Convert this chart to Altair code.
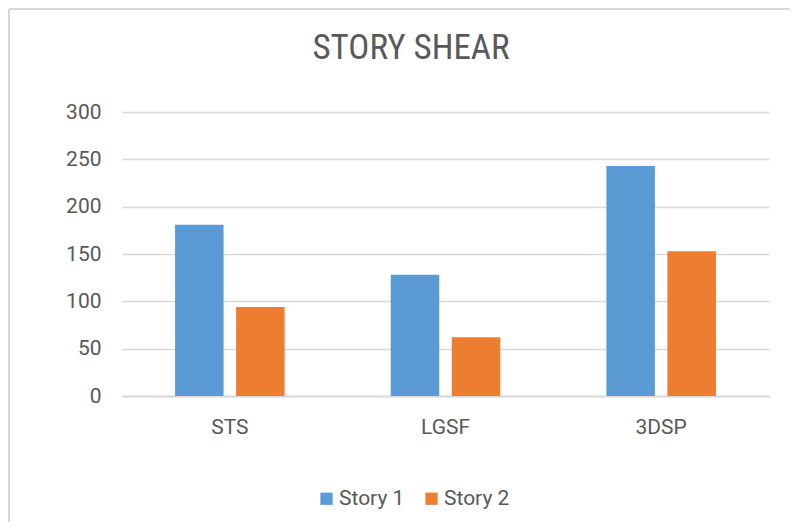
import altair as alt
import pandas as pd

title_text = "STORY SHEAR"
categories = ["STS", "LGSF", "3DSP"]
series = ["Story 1", "Story 2"]
story1 = [181, 128, 243]
story2 = [94, 62, 153]
y_ticks = [0, 50, 100, 150, 200, 250, 300]
colors = ["#5B9BD5", "#ED7D31"]

rows = []
for c, a, b in zip(categories, story1, story2):
    rows.append({"category": c, "series": series[0], "value": a})
    rows.append({"category": c, "series": series[1], "value": b})
df = pd.DataFrame(rows)

TXT = "#595959"
GRID = "#d9d9d9"
FONT = "Roboto"

bars = alt.Chart(df).mark_bar().encode(
    x=alt.X(
        "category:N",
        sort=categories,
        scale=alt.Scale(paddingInner=0.492, paddingOuter=0.246),
        axis=alt.Axis(
            title=None, labelAngle=0, ticks=False, labelPadding=20,
            labelFontSize=21, labelFont=FONT, labelColor=TXT,
            domainColor=GRID, domainWidth=2, grid=False,
        ),
    ),
    xOffset=alt.XOffset(
        "series:N", sort=series,
        scale=alt.Scale(paddingInner=0.205, paddingOuter=0),
    ),
    y=alt.Y(
        "value:Q",
        scale=alt.Scale(domain=[0, 300]),
        axis=alt.Axis(
            values=y_ticks, title=None, ticks=False, domain=False,
            labelPadding=21, labelFontSize=21, labelFont=FONT, labelColor=TXT,
            gridColor=GRID, gridWidth=1.5,
        ),
    ),
    color=alt.Color(
        "series:N",
        scale=alt.Scale(domain=series, range=colors),
        legend=alt.Legend(
            orient="none", legendX=194, legendY=376, direction="horizontal",
            title=None, symbolType="square", symbolSize=150, symbolStrokeWidth=0,
            labelFontSize=21, labelFont=FONT, labelColor=TXT,
            columnPadding=16, labelOffset=2, padding=0,
        ),
    ),
)

frame_df = pd.DataFrame({"k": [0]})
left_line = alt.Chart(frame_df).mark_rule(color="#d9d9d9", strokeWidth=2).encode(
    x=alt.value(-113), y=alt.value(-103), y2=alt.value(410)
)
top_line = alt.Chart(frame_df).mark_rule(color="#d9d9d9", strokeWidth=2).encode(
    x=alt.value(-113), x2=alt.value(668), y=alt.value(-103)
)
title_mark = alt.Chart(frame_df).mark_text(
    fontSize=35, font="Liberation Sans Narrow, Roboto Condensed, Roboto",
    color=TXT, align="center", baseline="alphabetic",
).encode(text=alt.value(title_text), x=alt.value(289), y=alt.value(-53))

chart = alt.layer(left_line, top_line, title_mark, bars).properties(
    width=647,
    height=284,
    background="white",
    padding={"left": 0, "top": 0, "right": 0, "bottom": 0},
).configure_view(strokeWidth=0)

chart.save("out.html", embed_options={"renderer": "svg", "actions": False})
